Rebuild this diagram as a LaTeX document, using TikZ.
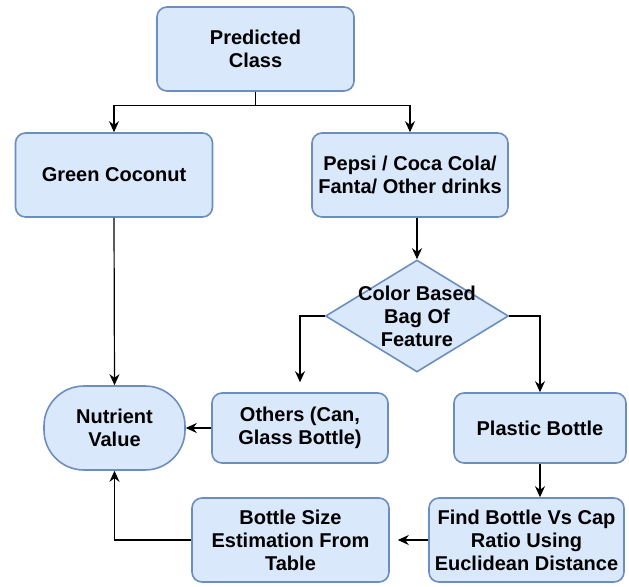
\documentclass[tikz,border=0pt]{standalone}
\usepackage{fontspec}
\setmainfont{Liberation Sans}
\usepackage{tikz}
\usetikzlibrary{positioning,calc,shapes.geometric,arrows.meta}
\definecolor{boxfill}{HTML}{DAE8FC}
\definecolor{boxline}{HTML}{6C8EBF}

\begin{document}
\begin{tikzpicture}[x=0.5pt,y=-0.5pt]
        \tikzstyle{box}=[rectangle, rounded corners=5pt, draw=boxline, fill=boxfill, line width=0.8pt, align=center, font=\bfseries\fontsize{10}{11.5}\selectfont, minimum height=42pt, inner sep=1pt]
        \tikzstyle{decision}=[diamond, draw=boxline, fill=boxfill, line width=0.8pt, minimum width=91.5pt, minimum height=56pt, inner sep=0pt]
        \tikzstyle{arr}=[line width=0.6pt, -{Stealth[length=5.5pt,width=5pt]}]

        \path[use as bounding box] (0,0) rectangle (629,586);

        \node[box, minimum width=98.5pt] (pred) at (255.5,49) {Predicted\\Class};
        \node[box, minimum width=98.5pt] (coco) at (114,175) {Green Coconut};
        \node[box, minimum width=98pt] (drinks) at (410,175) {Pepsi / Coca Cola/\\Fanta/ Other drinks};
        \node[decision, label={[align=center, font=\bfseries\fontsize{10}{11.5}\selectfont]center:Color Based\\Bag Of\\Feature}] (bof) at (417,316) {};

        \node[box, rounded corners=20pt, minimum width=70.5pt] (nutr) at (114.5,428) {Nutrient\\Value};
        \node[box, minimum width=88pt, minimum height=35pt] (others) at (300,428) {Others (Can,\\Glass Bottle)};
        \node[box, minimum width=86pt, minimum height=35pt] (plastic) at (540,428) {Plastic Bottle};

        \node[box, minimum width=98.5pt] (size) at (290.5,540) {Bottle Size\\Estimation From\\Table};
        \node[box, minimum width=97.5pt] (find) at (526.5,540) {Find Bottle Vs Cap\\Ratio Using\\Euclidean Distance};

        % tree from the top
        \draw[arr] (pred.south) -- ++(0,14) -| (coco.north);
        \draw[arr] (pred.south) -- ++(0,14) -| (drinks.north);
        \draw[arr] (bof.north |- drinks.south) -- (bof.north);
        \draw[arr, shorten >=5pt] (bof.west) -| (others.north);
        \draw[arr] (bof.east) -| (plastic.north);
        \draw[arr] (plastic.south) -- (plastic.south |- find.north);
        \draw[arr, shorten >=4pt] (find.west) -- (size.east);

        % into the nutrient value
        \draw[arr] (coco.south) -- (nutr.north);
        \draw[arr] (others.west) -- (nutr.east);
        \draw[arr] (size.west) -| (nutr.south);
    \end{tikzpicture}
\end{document}
